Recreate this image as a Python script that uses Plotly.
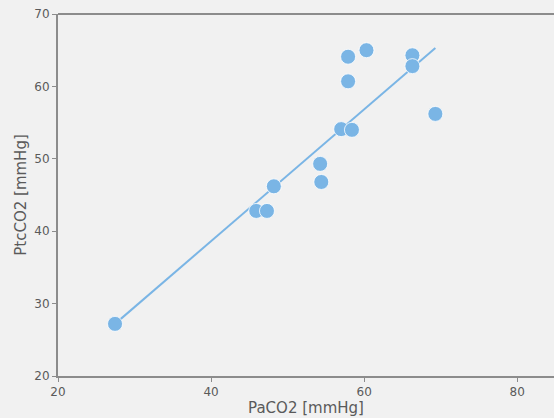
import plotly.graph_objects as go

paco2 = [27.45, 45.9, 47.3, 48.2, 54.25, 54.4, 57.0, 58.4, 57.9, 57.9, 60.3, 66.3, 66.3, 69.3]
ptcco2 = [27.2, 42.8, 42.8, 46.2, 49.3, 46.8, 54.1, 54.0, 60.7, 64.1, 65.0, 64.3, 62.8, 56.2]
fit_x = [27.45, 69.3]
fit_y = [27.2, 65.3]

fig = go.Figure()
fig.add_trace(go.Scatter(x=fit_x, y=fit_y, mode="lines",
                         line=dict(color="#7ab5e5", width=2), showlegend=False))
fig.add_trace(go.Scatter(x=paco2, y=ptcco2, mode="markers",
                         marker=dict(size=15, color="#7ab5e5", line=dict(color="white", width=0.8)),
                         showlegend=False))

fam = "DejaVu Sans, sans-serif"
axfont = dict(family=fam, size=12, color="#5a5a5a")
fig.update_layout(
    width=554, height=418,
    margin=dict(l=58, r=0, t=14, b=42),
    paper_bgcolor="#f1f1f1", plot_bgcolor="#f1f1f1",
    font=dict(family=fam, color="#5a5a5a"),
    xaxis=dict(range=[20, 84.8], tickvals=[20, 40, 60, 80], showgrid=False, zeroline=False,
               showline=True, linecolor="#8c8c8c", linewidth=2, ticks="outside", ticklen=4,
               tickcolor="#8c8c8c", tickfont=axfont,
               title=dict(text="PaCO2 [mmHg]", font=dict(size=15, color="#5a5a5a"), standoff=4)),
    yaxis=dict(range=[20, 70], tickvals=[20, 30, 40, 50, 60, 70], showgrid=False, zeroline=False,
               showline=True, linecolor="#8c8c8c", linewidth=2, ticks="outside", ticklen=4,
               tickcolor="#8c8c8c", tickfont=axfont,
               title=dict(text="PtcCO2 [mmHg]", font=dict(size=15, color="#5a5a5a"), standoff=4)),
)
fig.add_shape(type="line", xref="paper", yref="paper", x0=0, x1=1, y0=1, y1=1,
              line=dict(color="#8c8c8c", width=2))
fig.write_html("out.html", config={"displayModeBar": False},
               post_script="document.body.style.margin='0';document.body.style.background='#f1f1f1';")
